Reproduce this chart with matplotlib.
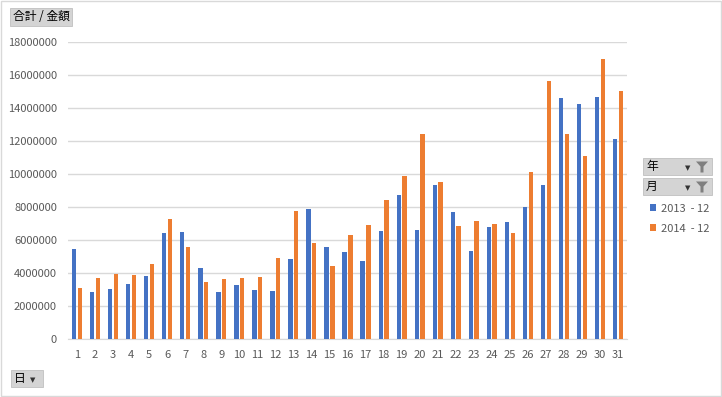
import matplotlib.pyplot as plt
import matplotlib.patches as mpatches
import numpy as np

plt.rcParams['font.family'] = ['Noto Sans CJK JP', 'DejaVu Sans']

# ---- data ----
days = list(range(1, 32))
sales_2013 = [5.45, 2.85, 3.03, 3.33, 3.82, 6.42, 6.48, 4.30, 2.85, 3.27,
              2.97, 2.91, 4.85, 7.88, 5.58, 5.27, 4.73, 6.55, 8.73, 6.61,
              9.33, 7.70, 5.33, 6.79, 7.09, 8.00, 9.33, 14.61, 14.24, 14.67, 12.12]
sales_2014 = [3.09, 3.70, 3.94, 3.88, 4.55, 7.27, 5.58, 3.45, 3.64, 3.70,
              3.76, 4.91, 7.76, 5.82, 4.42, 6.30, 6.91, 8.42, 9.88, 12.42,
              9.52, 6.85, 7.15, 6.97, 6.42, 10.12, 15.64, 12.42, 11.09, 16.97, 15.03]
series_labels = ['2013  - 12', '2014  - 12']
y_ticks = list(range(0, 18000001, 2000000))

blue = '#4472C4'
orange = '#ED7D31'
grey_text = '#595959'

fig = plt.figure(figsize=(7.22, 3.97), dpi=100)
ax = fig.add_axes([68/722, 1 - 339/397, (627 - 68)/722, (339 - 42)/397])

x = np.arange(len(days))
w = 0.24
v13 = np.array(sales_2013) * 1e6
v14 = np.array(sales_2014) * 1e6
b1 = ax.bar(x - 0.16, v13, w, color=blue, label=series_labels[0], zorder=3)
b2 = ax.bar(x + 0.16, v14, w, color=orange, label=series_labels[1], zorder=3)

ax.set_xlim(-0.5, len(days) - 0.5)
ax.set_ylim(0, 18000000)
ax.set_xticks(x)
ax.set_xticklabels([str(d) for d in days])
ax.set_yticks(y_ticks)
ax.set_yticklabels([str(t) for t in y_ticks])
ax.tick_params(axis='both', length=0, labelsize=8, colors=grey_text)
ax.tick_params(axis='x', pad=8)
ax.tick_params(axis='y', pad=8)
ax.grid(axis='y', color='#D9D9D9', linewidth=1, zorder=0)
for s in ['top', 'right', 'left']:
    ax.spines[s].set_visible(False)
ax.spines['bottom'].set_color('#D9D9D9')

# outer border
fig.patches.append(mpatches.Rectangle((0.001, 0.002), 0.997, 0.996, transform=fig.transFigure,
                                      fill=False, edgecolor='#D9D9D9', linewidth=1))


def field_button(x0, y0, wpx, hpx, label, arrow=False, funnel=False):
    # pixel coordinates from top-left
    fx, fy = x0 / 722, 1 - (y0 + hpx) / 397
    fig.patches.append(mpatches.Rectangle((fx, fy), wpx / 722, hpx / 397, transform=fig.transFigure,
                                          facecolor='#D4D4D4', edgecolor='#C0C0C0', linewidth=0.6))
    fig.text(fx + 3 / 722, fy + hpx / 2 / 397, label, fontsize=8.5, va='center', ha='left', color='black')
    if arrow:
        ax_x = (x0 + wpx - (24 if funnel else 10)) / 722
        fig.text(ax_x, fy + hpx / 2 / 397 - 2 / 397, '▼', fontsize=5, va='center', ha='center',
                 color='#333333', family='DejaVu Sans')
    if funnel:
        cx = x0 + wpx - 10
        cy = y0 + hpx / 2
        pts = [(cx - 6, cy - 5), (cx + 6, cy - 5), (cx + 1.5, cy), (cx + 1.5, cy + 6),
               (cx - 1.5, cy + 6), (cx - 1.5, cy)]
        fig.patches.append(mpatches.Polygon([(px / 722, 1 - py / 397) for px, py in pts],
                                            closed=True, transform=fig.transFigure,
                                            facecolor='#7F7F7F', edgecolor='none'))


field_button(10, 8, 62, 18, '合計 / 金額')
field_button(643, 158, 69, 17, '年', arrow=True, funnel=True)
field_button(643, 178, 69, 17, '月', arrow=True, funnel=True)
field_button(11, 370, 32, 17, '日', arrow=True)

fig.legend(handles=[b1, b2], labels=series_labels, loc='upper left',
           bbox_to_anchor=(642 / 722, 1 - 196 / 397), frameon=False, fontsize=8,
           handlelength=0.55, handleheight=0.55, handletextpad=0.5, labelspacing=0.9,
           labelcolor=grey_text, borderpad=0.2)

fig.savefig('out.png', dpi=100)
